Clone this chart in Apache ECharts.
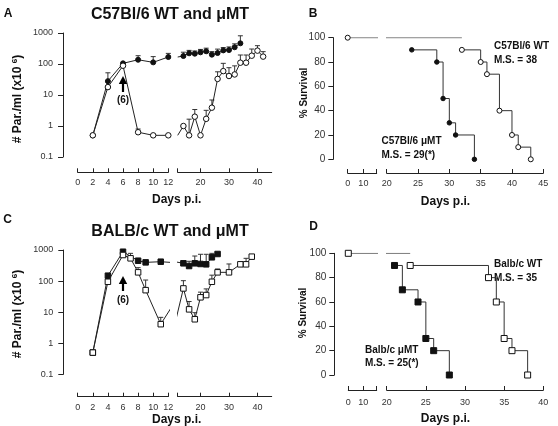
<!DOCTYPE html>
<html><head><meta charset="utf-8">
<script src="https://cdn.jsdelivr.net/npm/echarts@6/dist/echarts.min.js"></script>
<style>html,body{margin:0;padding:0;background:#fff}#c{width:558px;height:426px}</style>
</head><body><div id="c"></div>
<script>
// ---------- Panel A : C57Bl/6 parasitemia ----------
const daysA_WT = [2,4,6,8,10,12,14,16,18,20,22,24,26,28,30,32,34,36,38,40,42];
const parA_WT  = [0.5,18,88,0.63,0.5,0.5,1.0,0.5,2.0,0.5,1.7,3.9,33,59,41,46,110,110,185,270,173];
const errA_WT  = [null,null,null,0.8,null,null,null,1.66,3.4,null,3.2,6.9,56,105,76,87,195,195,304,390,250];
const daysA_MT = [2,4,6,8,10,12,14,16,18,20,22,24,26,28,30,32,34];
const parA_MT  = [0.5,28,105,137,113,168,181,221,215,238,257,200,226,275,282,347,465];
const errA_MT  = [null,52,null,185,173,220,240,275,263,295,324,251,302,339,355,447,813];
// ---------- Panel C : BALB/c parasitemia ----------
const daysC_WT = [2,4,6,7,8,9,11,14,16,18,20,22,24,26,30,34,36,38];
const parC_WT  = [0.5,95,690,540,191,51,4.1,58,12.3,5.9,30,35.5,95,191,191,346,346,610];
const errC_WT  = [null,null,null,780,270,108,6.8,103,22,9.6,44,56,155,245,355,null,540,null];
const daysC_MT = [2,4,6,8,9,11,14,16,18,20,22,24,26];
const parC_MT  = [0.5,149,880,452,400,420,373,305,373,355,346,582,744];
const errC_MT  = [null,null,null,null,null,null,440,433,640,728,728,780,null];
// ---------- Panel B : C57Bl/6 survival ----------
const daysB_top = [0,32];   const survB_top = [100,100];
const daysB_WT = [32,35,36,38,40,41,43]; const survB_WT = [90,80,70,40,20,10,0];
const daysB_MT = [24,28,29,30,31,34];    const survB_MT = [90,80,50,30,20,0];
// ---------- Panel D : BALB/c survival ----------
const daysD_top = [0,23];   const survD_top = [100,100];
const daysD_WT = [23,33,34,35,36,38];    const survD_WT = [90,80,60,30,20,0];
const daysD_MT = [21,22,24,25,26,28];    const survD_MT = [90,70,60,30,20,0];
// ---------- arrows: [day, base, tip, label position] ----------
const arrowA = [6, 12.5, 41, 6.9];
const arrowC = [6, 48, 146, 24.6];
const arrowText = '(6)';
// ---------- tick values ----------
const ticksDaysLeft = [0,2,4,6,8,10,12];
const ticksDaysRightTick = [12,20,30,40];
const ticksDaysRightLabel = [20,30,40];
const ticksSurvLeftTick = [0,10,18.5];
const ticksSurvLeftLabel = [0,10];
const ticksSurvRightB = [20,25,30,35,40,45];
const ticksSurvRightD = [20,25,30,35,40];
// ---------- texts ----------
const titleA = 'C57Bl/6 WT and μMT';
const titleC = 'BALB/c WT and μMT';
const labB_WT = ['C57Bl/6 WT', 'M.S. = 38'];
const labB_MT = ['C57Bl/6 μMT', 'M.S. = 29(*)'];
const labD_WT = ['Balb/c WT', 'M.S. = 35'];
const labD_MT = ['Balb/c μMT', 'M.S. = 25(*)'];

const FONT = "'Liberation Sans', Arial, Helvetica, sans-serif";
const AX = '#222';

function segData(days, vals, lo, hi, loOpen) {
  const out = [];
  const inside = d => (loOpen ? d > lo : d >= lo) && d <= hi;
  for (let i = 0; i < days.length; i++) {
    const d = days[i];
    if (inside(d)) out.push([d, vals[i]]);
    else if ((d <= lo && i + 1 < days.length && inside(days[i + 1])) ||
             (d > hi && i > 0 && inside(days[i - 1])))
      out.push({ value: [d, vals[i]], symbol: 'none' });
  }
  return out;
}
function errData(days, vals, tops, lo, hi, loOpen) {
  const out = [];
  for (let i = 0; i < days.length; i++) {
    const d = days[i];
    if (tops[i] == null) continue;
    if ((loOpen ? d > lo : d >= lo) && d <= hi) out.push([d, vals[i], tops[i]]);
  }
  return out;
}
function lineS(gi, data, filled, symbol, size, z, step, color, showSym) {
  return {
    type: 'line', xAxisIndex: gi, yAxisIndex: gi, data, symbol, symbolSize: size,
    showSymbol: showSym !== false, clip: true, step: step || false, z: z || 2,
    lineStyle: { color: color || '#222', width: 1 },
    itemStyle: { color: filled ? '#111' : '#fff', borderColor: '#111', borderWidth: 1 },
    emphasis: { disabled: true }, silent: true, animation: false
  };
}
function errS(gi, data) {
  return {
    type: 'custom', xAxisIndex: gi, yAxisIndex: gi, data, z: 1, silent: true, animation: false,
    renderItem: (p, api) => {
      const p0 = api.coord([api.value(0), api.value(1)]);
      const p1 = api.coord([api.value(0), api.value(2)]);
      const st = { stroke: '#333', lineWidth: 1 };
      return { type: 'group', children: [
        { type: 'line', shape: { x1: p0[0], y1: p0[1], x2: p1[0], y2: p1[1] }, style: st },
        { type: 'line', shape: { x1: p1[0] - 2.5, y1: p1[1], x2: p1[0] + 2.5, y2: p1[1] }, style: st }
      ]};
    }
  };
}
function arrowS(gi, a) {
  return {
    type: 'custom', xAxisIndex: gi, yAxisIndex: gi, data: [a], z: 5, silent: true, animation: false,
    renderItem: (p, api) => {
      const b = api.coord([api.value(0), api.value(1)]);
      const t = api.coord([api.value(0), api.value(2)]);
      const l = api.coord([api.value(0), api.value(3)]);
      const hh = 8;
      return { type: 'group', children: [
        { type: 'line', shape: { x1: b[0], y1: b[1], x2: t[0], y2: t[1] + hh - 1 }, style: { stroke: '#000', lineWidth: 2.2 } },
        { type: 'polygon', shape: { points: [[t[0], t[1]], [t[0] - 4.2, t[1] + hh], [t[0] + 4.2, t[1] + hh]] }, style: { fill: '#000' } },
        { type: 'text', x: l[0], y: l[1], style: { text: arrowText, align: 'center', verticalAlign: 'middle', fontSize: 10, fontWeight: 'bold', fontFamily: FONT, fill: '#111' } }
      ]};
    }
  };
}

const G = [
  { left: 77.7, top: 33, width: 90.6, height: 124 },      // 0 A-L
  { left: 177.7, top: 33, width: 94, height: 124 },       // 1 A-R
  { left: 347.7, top: 37.7, width: 29, height: 121.6 },   // 2 B-L
  { left: 386.7, top: 37.7, width: 156.6, height: 121.6 },// 3 B-R
  { left: 77.7, top: 250, width: 90.6, height: 124.3 },   // 4 C-L
  { left: 177.7, top: 250, width: 94, height: 124.3 },    // 5 C-R
  { left: 348.3, top: 253.3, width: 28.4, height: 121.7 },// 6 D-L
  { left: 386.7, top: 253.3, width: 156.6, height: 121.7 }// 7 D-R
].map(g => Object.assign({ containLabel: false, outerBoundsMode: 'none' }, g));

function xAx(gi, min, max, ticks, labels, offset, margin) {
  return {
    gridIndex: gi, type: 'value', min, max, offset,
    axisLine: { show: true, onZero: false, lineStyle: { color: AX, width: 1 } },
    axisTick: { show: true, inside: true, length: 4, customValues: ticks, lineStyle: { color: AX } },
    axisLabel: { show: true, customValues: labels, fontSize: 9, color: '#333', margin, fontFamily: FONT },
    splitLine: { show: false }
  };
}
function yLog(gi, show, offset) {
  return {
    gridIndex: gi, type: 'log', logBase: 10, min: 0.1, max: 1000, show, offset: offset || 0,
    axisLine: { show: true, onZero: false, lineStyle: { color: AX } },
    axisTick: { show: true, inside: false, length: 5, lineStyle: { color: AX } },
    axisLabel: { fontSize: 9, color: '#333', margin: 10, fontFamily: FONT,
      formatter: v => v < 1 ? String(Number(v.toPrecision(1))) : String(Math.round(v)) },
    splitLine: { show: false }, minorTick: { show: false }
  };
}
function ySurv(gi, show, offset) {
  return {
    gridIndex: gi, type: 'value', min: 0, max: 100, interval: 20, show, offset: offset || 0,
    axisLine: { show: true, onZero: false, lineStyle: { color: AX } },
    axisTick: { show: true, inside: false, length: 5, lineStyle: { color: AX } },
    axisLabel: { fontSize: 10, color: '#333', margin: 8, fontFamily: FONT },
    splitLine: { show: false }
  };
}

const xAxis = [
  xAx(0, 0, 12, ticksDaysLeft, ticksDaysLeft, 15.3, 6),
  xAx(1, 12, 45, ticksDaysRightTick, ticksDaysRightLabel, 15.3, 6),
  xAx(2, 0, 18.5, ticksSurvLeftTick, ticksSurvLeftLabel, 13.7, 6),
  xAx(3, 20, 45, ticksSurvRightB, ticksSurvRightB, 13.7, 6),
  xAx(4, 0, 12, ticksDaysLeft, ticksDaysLeft, 22.4, 6),
  xAx(5, 12, 45, ticksDaysRightTick, ticksDaysRightLabel, 22.4, 6),
  xAx(6, 0, 18.9, [0,10,18.9], ticksSurvLeftLabel, 15, 8),
  xAx(7, 20, 40, ticksSurvRightD, ticksSurvRightD, 15, 8)
];
const yAxis = [
  yLog(0, true, 14.7), yLog(1, false),
  ySurv(2, true, 14.4), ySurv(3, false),
  yLog(4, true, 14.4), yLog(5, false),
  ySurv(6, true, 14), ySurv(7, false)
];

const series = [];
// Panel A (left grid 0, right grid 1)
[[0, 0, 12, false], [1, 12, 45, true]].forEach(([gi, lo, hi, lop]) => {
  series.push(errS(gi, errData(daysA_MT, parA_MT, errA_MT, lo, hi, lop)));
  series.push(errS(gi, errData(daysA_WT, parA_WT, errA_WT, lo, hi, lop)));
  series.push(lineS(gi, segData(daysA_MT, parA_MT, lo, hi, lop), true, 'circle', 5, 2));
  series.push(lineS(gi, segData(daysA_WT, parA_WT, lo, hi, lop), false, 'circle', 5.5, 3));
});
series.push(arrowS(0, arrowA));
// Panel C (grids 4, 5)
[[4, 0, 12, false], [5, 12, 45, true]].forEach(([gi, lo, hi, lop]) => {
  series.push(errS(gi, errData(daysC_MT, parC_MT, errC_MT, lo, hi, lop)));
  series.push(errS(gi, errData(daysC_WT, parC_WT, errC_WT, lo, hi, lop)));
  series.push(lineS(gi, segData(daysC_MT, parC_MT, lo, hi, lop), true, 'rect', 5.5, 2));
  series.push(lineS(gi, segData(daysC_WT, parC_WT, lo, hi, lop), false, 'rect', 5.5, 3));
});
series.push(arrowS(4, arrowC));
// Panel B (grids 2, 3)
series.push(lineS(2, segData(daysB_top, survB_top, 0, 18.5, false), false, 'circle', 5, 3, false, '#666'));
series.push(lineS(3, segData(daysB_top, survB_top, 20, 45, false), false, 'none', 5, 3, false, '#666', false));
series.push(lineS(3, segData(daysB_MT, survB_MT, 20, 45, false), true, 'circle', 4.5, 2, 'end', '#333'));
series.push(lineS(3, segData(daysB_WT, survB_WT, 20, 45, false), false, 'circle', 5, 3, 'end', '#333'));
// Panel D (grids 6, 7)
series.push(lineS(6, segData(daysD_top, survD_top, 0, 18.9, false), false, 'rect', 6, 3, false, '#666'));
series.push(lineS(7, segData(daysD_top, survD_top, 20, 40, false), false, 'none', 6, 3, false, '#666', false));
series.push(lineS(7, segData(daysD_MT, survD_MT, 20, 40, false), true, 'rect', 6, 2, 'end', '#333'));
series.push(lineS(7, segData(daysD_WT, survD_WT, 20, 40, false), false, 'rect', 6, 3, 'end', '#333'));

function txt(x, y, text, size, bold, align, rot) {
  return { type: 'text', x, y, rotation: rot || 0, silent: true,
    style: { text, fontSize: size, fontWeight: bold ? 'bold' : 'normal', fontFamily: FONT,
      fill: '#111', align: align || 'center', verticalAlign: 'middle' } };
}
function yName(x, y) {
  return { type: 'text', x, y, rotation: Math.PI / 2, silent: true,
    style: { text: '{n|# Par./ml (x10 }{s|6}{n|)}', align: 'center', verticalAlign: 'middle',
      rich: {
        n: { fontSize: 12, fontWeight: 'bold', fontFamily: FONT, fill: '#111', lineHeight: 14 },
        s: { fontSize: 8, fontWeight: 'bold', fontFamily: FONT, fill: '#111', lineHeight: 8, verticalAlign: 'top' }
      } } };
}
const graphic = [
  txt(8, 14, 'A', 12, true), txt(313, 14, 'B', 12, true),
  txt(7.5, 220, 'C', 12, true), txt(313.5, 227, 'D', 12, true),
  txt(170, 15, titleA, 16, true), txt(170, 231.5, titleC, 16, true),
  txt(176.7, 200, 'Days p.i.', 12, true), txt(176.7, 420, 'Days p.i.', 12, true),
  txt(445.5, 201.5, 'Days p.i.', 12, true), txt(445.5, 418.5, 'Days p.i.', 12, true),
  yName(18, 99), yName(18, 314),
  txt(304, 93, '% Survival', 10, true, 'center', Math.PI / 2),
  txt(303, 313, '% Survival', 10, true, 'center', Math.PI / 2),
  txt(494, 46.5, labB_WT[0], 10, true, 'left'), txt(494, 60, labB_WT[1], 10, true, 'left'),
  txt(381.5, 141, labB_MT[0], 10, true, 'left'), txt(381.5, 155, labB_MT[1], 10, true, 'left'),
  txt(494, 264.5, labD_WT[0], 10, true, 'left'), txt(494, 278, labD_WT[1], 10, true, 'left'),
  txt(365, 350, labD_MT[0], 10, true, 'left'), txt(365, 363.5, labD_MT[1], 10, true, 'left')
];

const chart = echarts.init(document.getElementById('c'), null, { renderer: 'canvas' });
chart.setOption({ animation: false, backgroundColor: '#fff', grid: G, xAxis, yAxis, series, graphic });
</script>
</body></html>
